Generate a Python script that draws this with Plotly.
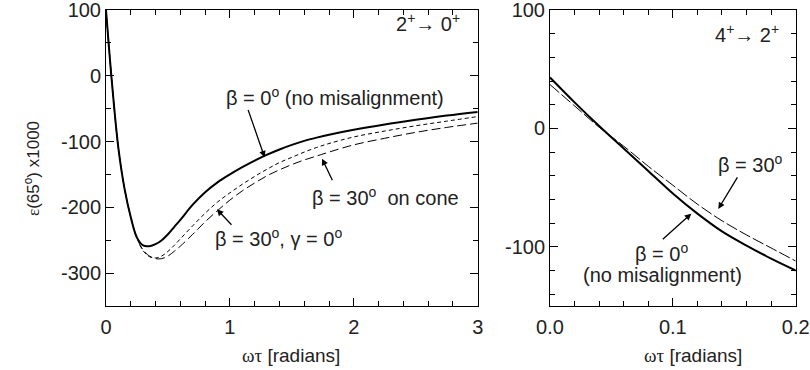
import plotly.graph_objects as go

# ---- Left panel data: 2+ -> 0+ ----
x_left = [0, 0.05, 0.1, 0.15, 0.2, 0.25, 0.3, 0.35, 0.4, 0.45, 0.5, 0.55, 0.6, 0.7, 0.8, 0.9, 1.0,
          1.1, 1.2, 1.3, 1.4, 1.5, 1.6, 1.7, 1.8, 2.0, 2.25, 2.5, 2.75, 3.0]
solid_left = [100, -15, -110, -172, -215, -246, -258, -259, -256, -250, -241, -230, -219, -196, -177, -162, -150,
              -139, -129, -120, -112, -105, -99, -94, -89.5, -82, -74, -67, -60.5, -55]
short_left = [100, -15, -110, -172, -215, -247, -266, -275, -277, -274, -267, -258, -248, -228, -209, -192, -178,
              -165, -153, -142, -132, -124, -116, -109, -103, -93, -84, -76, -69, -62]
long_left = [100, -15, -110, -172, -215, -247, -265, -274, -278, -278, -274, -267, -259, -241, -222, -205, -189,
             -175, -163, -152, -143, -135, -128, -122, -116, -105, -95, -86, -78.5, -72]

# ---- Right panel data: 4+ -> 2+ ----
x_right = [0, 0.02, 0.04, 0.06, 0.08, 0.1, 0.12, 0.14, 0.16, 0.18, 0.2]
solid_right = [43, 22, 2, -17, -36, -55, -72, -87, -99, -110, -120]
dash_right = [37, 19, 1, -15, -32, -48, -64, -78, -90, -101, -112]

left_xticks = [0, 1, 2, 3]
left_yticks = [100, 0, -100, -200, -300]
left_yticklabels = ["100", "0", "-100", "-200", "-300"]
right_xticks = [0.0, 0.1, 0.2]
right_xticklabels = ["0.0", "0.1", "0.2"]
right_yticks = [100, 0, -100]
right_yticklabels = ["100", "0", "-100"]

FONT = "Liberation Sans, Arial, sans-serif"
FS = 20
TICKFS = 20

fig = go.Figure()
sp = dict(shape="spline", smoothing=1.0)
fig.add_trace(go.Scatter(x=x_left, y=solid_left, mode="lines", line=dict(color="black", width=2, **sp), xaxis="x", yaxis="y"))
fig.add_trace(go.Scatter(x=x_left, y=short_left, mode="lines", line=dict(color="black", width=1, dash="4px,3px", **sp), xaxis="x", yaxis="y"))
fig.add_trace(go.Scatter(x=x_left, y=long_left, mode="lines", line=dict(color="black", width=1, dash="9px,4px", **sp), xaxis="x", yaxis="y"))
fig.add_trace(go.Scatter(x=x_right, y=solid_right, mode="lines", line=dict(color="black", width=2, **sp), xaxis="x2", yaxis="y2"))
fig.add_trace(go.Scatter(x=x_right, y=dash_right, mode="lines", line=dict(color="black", width=1, dash="12px,3px", **sp), xaxis="x2", yaxis="y2"))

axcommon = dict(showline=True, linecolor="black", linewidth=1, mirror="ticks", ticks="inside",
                ticklen=8, tickwidth=1, tickcolor="black", showgrid=False, zeroline=False,
                ticklabeloverflow="allow",
                tickfont=dict(family=FONT, size=TICKFS, color="#222"))

ydom = [1 - 306 / 370, 1 - 10 / 370]
fig.update_layout(
    width=810, height=370, margin=dict(l=0, r=0, t=0, b=0, autoexpand=False),
    paper_bgcolor="white", plot_bgcolor="white", showlegend=False,
    xaxis=dict(domain=[106 / 810, 477.7 / 810], range=[0, 3], tickvals=left_xticks, ticklabelstandoff=3,
               minor=dict(ticks="inside", dtick=0.2, ticklen=5, tickcolor="black"), anchor="y", **axcommon),
    yaxis=dict(domain=ydom, range=[-350, 100], tickvals=left_yticks, ticktext=left_yticklabels,
               minor=dict(ticks="inside", dtick=50, ticklen=5, tickcolor="black"), anchor="x", **axcommon),
    xaxis2=dict(domain=[550 / 810, 795.7 / 810], range=[0, 0.2], tickvals=right_xticks, ticktext=right_xticklabels,
                ticklabelstandoff=3,
                minor=dict(ticks="inside", dtick=0.02, ticklen=5, tickcolor="black"), anchor="y2", **axcommon),
    yaxis2=dict(domain=ydom, range=[-150, 100], tickvals=right_yticks, ticktext=right_yticklabels,
                minor=dict(ticks="inside", dtick=20, ticklen=5, tickcolor="black"), anchor="x2", **axcommon),
)

tf = dict(family=FONT, size=FS, color="#222")
ann = []
# left panel texts
ann.append(dict(x=2.87, y=81, xref="x", yref="y", text="2<sup>+</sup>\u2192 0<sup>+</sup>", showarrow=False, xanchor="right", font=tf))
ann.append(dict(x=0.954, y=-32, xref="x", yref="y", text="\u03b2 = 0<sup>o</sup> (no misalignment)", showarrow=False, xanchor="left", font=tf))
ann.append(dict(x=1.65, y=-184, xref="x", yref="y", text="\u03b2 = 30<sup>o</sup>  on cone", showarrow=False, xanchor="left", font=tf))
ann.append(dict(x=0.865, y=-246, xref="x", yref="y", text="\u03b2 = 30<sup>o</sup>, \u03b3 = 0<sup>o</sup>", showarrow=False, xanchor="left", font=tf))
# left arrows
for (hx, hy, ax, ay) in [(1.28, -124, -17, -49), (1.744, -126, 11, 23), (0.895, -203, 16, 17)]:
    ann.append(dict(x=hx, y=hy, xref="x", yref="y", ax=ax, ay=ay, text="", showarrow=True,
                    arrowhead=2, arrowsize=1, arrowwidth=1.3, arrowcolor="black"))
# right panel texts
ann.append(dict(x=0.188, y=80, xref="x2", yref="y2", text="4<sup>+</sup>\u2192 2<sup>+</sup>", showarrow=False, xanchor="right", font=tf))
ann.append(dict(x=0.135, y=-30, xref="x2", yref="y2", text="\u03b2 = 30<sup>o</sup>", showarrow=False, xanchor="left", font=tf))
ann.append(dict(x=0.091, y=-105, xref="x2", yref="y2", text="\u03b2 = 0<sup>o</sup>", showarrow=False, xanchor="center", font=tf))
ann.append(dict(x=0.0916, y=-124, xref="x2", yref="y2", text="(no misalignment)", showarrow=False, xanchor="center", font=tf))
for (hx, hy, ax, ay) in [(0.137, -68, 20, -33), (0.115, -72, -30, 27)]:
    ann.append(dict(x=hx, y=hy, xref="x2", yref="y2", ax=ax, ay=ay, text="", showarrow=True,
                    arrowhead=2, arrowsize=1, arrowwidth=1.3, arrowcolor="black"))
# axis titles
tt = dict(family=FONT, size=19, color="#222")
xt = "<span style='font-family:Liberation Serif'>\u03c9\u03c4</span> [radians]"
ann.append(dict(x=290.7 / 810, y=1 - 355 / 370, xref="paper", yref="paper", text=xt, showarrow=False,
                xanchor="center", yanchor="middle", font=tt))
ann.append(dict(x=693 / 810, y=1 - 355 / 370, xref="paper", yref="paper", text=xt, showarrow=False,
                xanchor="center", yanchor="middle", font=tt))
ann.append(dict(x=32 / 810, y=1 - 169 / 370, xref="paper", yref="paper",
                text="<span style='font-family:Liberation Serif'>\u03b5</span>(65<sup>o</sup>) x1000",
                showarrow=False, textangle=-90, xanchor="center", yanchor="middle",
                font=dict(family=FONT, size=17, color="#222")))
fig.update_layout(annotations=ann)

fig.write_html("out.html", config={"displayModeBar": False},
               post_script="document.body.style.margin='0';document.body.style.padding='0';")
